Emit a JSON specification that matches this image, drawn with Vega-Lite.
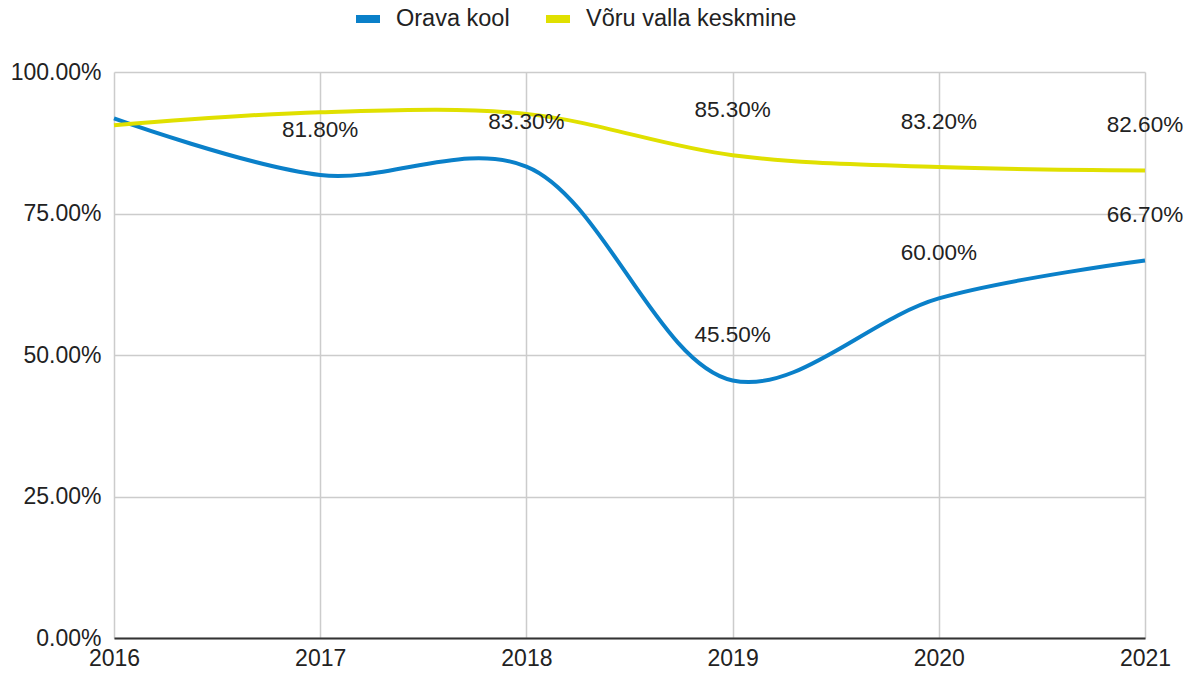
{
  "$schema": "https://vega.github.io/schema/vega-lite/v6.json",
  "width": 1031,
  "height": 566,
  "autosize": {"type": "none"},
  "padding": {"left": 114, "top": 72, "right": 48, "bottom": 37},
  "background": "white",
  "config": {
    "view": {"stroke": null},
    "font": "Liberation Sans",
    "axis": {"labelFont": "Liberation Sans", "labelFontSize": 23, "labelColor": "#222222", "gridColor": "#cccccc", "gridWidth": 1.5, "ticks": false, "title": null}
  },
  "datasets": {
    "lines": [
      {"year": 2016, "series": "Orava kool", "value": 0.918},
      {"year": 2017, "series": "Orava kool", "value": 0.818},
      {"year": 2018, "series": "Orava kool", "value": 0.833},
      {"year": 2019, "series": "Orava kool", "value": 0.455},
      {"year": 2020, "series": "Orava kool", "value": 0.600},
      {"year": 2021, "series": "Orava kool", "value": 0.667},
      {"year": 2016, "series": "Võru valla keskmine", "value": 0.906},
      {"year": 2017, "series": "Võru valla keskmine", "value": 0.929},
      {"year": 2018, "series": "Võru valla keskmine", "value": 0.926},
      {"year": 2019, "series": "Võru valla keskmine", "value": 0.853},
      {"year": 2020, "series": "Võru valla keskmine", "value": 0.832},
      {"year": 2021, "series": "Võru valla keskmine", "value": 0.826}
    ],
    "labels": [
      {"year": 2017, "series": "Orava kool", "value": 0.818},
      {"year": 2018, "series": "Orava kool", "value": 0.833},
      {"year": 2019, "series": "Orava kool", "value": 0.455},
      {"year": 2020, "series": "Orava kool", "value": 0.600},
      {"year": 2021, "series": "Orava kool", "value": 0.667},
      {"year": 2019, "series": "Võru valla keskmine", "value": 0.853},
      {"year": 2020, "series": "Võru valla keskmine", "value": 0.832},
      {"year": 2021, "series": "Võru valla keskmine", "value": 0.826}
    ]
  },
  "layer": [
    {
      "data": {"name": "lines"},
      "mark": {"type": "line", "interpolate": "catmull-rom", "strokeWidth": 4},
      "encoding": {
        "x": {"field": "year", "type": "quantitative", "scale": {"domain": [2016, 2021], "nice": false, "zero": false},
          "axis": {"values": [2016, 2017, 2018, 2019, 2020, 2021], "format": "d", "grid": true, "domain": true, "domainColor": "#333333", "domainWidth": 2, "labelPadding": 9, "labelFlush": false}},
        "y": {"field": "value", "type": "quantitative", "scale": {"domain": [0, 1], "nice": false},
          "axis": {"values": [0, 0.25, 0.5, 0.75, 1], "format": ".2%", "grid": true, "domain": false, "labelPadding": 13}},
        "color": {"field": "series", "type": "nominal",
          "scale": {"domain": ["Orava kool", "Võru valla keskmine"], "range": ["#0a80c9", "#e0e000"]},
          "legend": {"orient": "none", "legendX": 238, "legendY": -69, "direction": "horizontal", "title": null,
            "symbolType": "stroke", "symbolStrokeWidth": 8, "symbolSize": 576, "labelFontSize": 23.5, "labelFont": "Liberation Sans", "labelColor": "#222222", "labelOffset": 12, "labelLimit": 400, "columnPadding": 20}}
      }
    },
    {
      "data": {"name": "labels"},
      "mark": {"type": "text", "fontSize": 22.5, "font": "Liberation Sans", "color": "#222222", "baseline": "middle", "align": "center", "dy": -45},
      "encoding": {
        "x": {"field": "year", "type": "quantitative"},
        "y": {"field": "value", "type": "quantitative"},
        "text": {"field": "value", "type": "quantitative", "format": ".2%"}
      }
    }
  ]
}
